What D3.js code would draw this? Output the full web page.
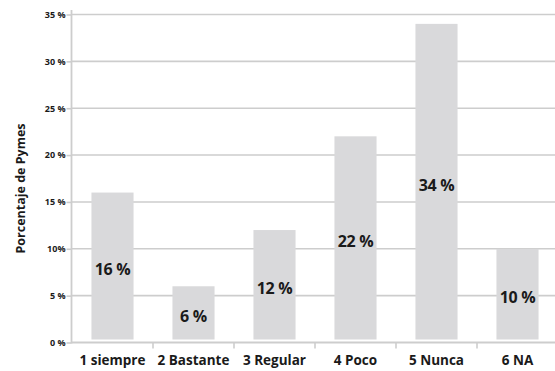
<!DOCTYPE html>
<html>
<head>
<meta charset="utf-8">
<script src="https://cdn.jsdelivr.net/npm/d3@7/dist/d3.min.js"></script>
<style>
  html, body { margin: 0; padding: 0; background: #fff; }
  svg { display: block; font-family: "Open Sans", "Noto Sans", sans-serif; }
</style>
</head>
<body>
<svg id="chart" width="555" height="371"></svg>
<script>
// Survey answers: share of SMEs per response
const categories = ["1 siempre", "2 Bastante", "3 Regular", "4 Poco", "5 Nunca", "6 NA"];
const values = [16, 6, 12, 22, 34, 10];
const valueLabels = ["16 %", "6 %", "12 %", "22 %", "34 %", "10 %"];
const yTicks = [0, 5, 10, 15, 20, 25, 30, 35];
const yTickLabels = ["0 %", "5 %", "10%", "15 %", "20 %", "25 %", "30 %", "35 %"];
const yTitle = "Porcentaje de Pymes";

const svg = d3.select("#chart");
const W = 555;
const plotLeft = 71.5, plotTop = 14.5, plotBottom = 342.5;

const x = d3.scaleBand().domain(categories).range([72, 558]).paddingInner(0.48).paddingOuter(0.24);
const y = d3.scaleLinear().domain([0, 35]).range([plotBottom, plotTop]);

const gridColor = "#cdcdcd";

// horizontal gridlines
svg.append("g").selectAll("line").data(yTicks.filter(d => d > 0)).join("line")
  .attr("x1", plotLeft).attr("x2", W)
  .attr("y1", d => y(d)).attr("y2", d => y(d))
  .attr("stroke", gridColor).attr("stroke-width", 1.6);

// bars
svg.append("g").selectAll("rect").data(values).join("rect")
  .attr("x", (d, i) => x(categories[i]))
  .attr("width", x.bandwidth())
  .attr("y", d => y(d))
  .attr("height", d => y(0) - 3 - y(d))
  .attr("fill", "#d9d9db");

// y axis
const yAxis = d3.axisLeft(y).tickValues(yTicks).tickSize(5).tickPadding(1)
  .tickFormat((d, i) => yTickLabels[i]);
const gy = svg.append("g").attr("transform", `translate(${plotLeft},0)`).call(yAxis);
gy.select(".domain").remove();
gy.selectAll(".tick line").attr("stroke", gridColor).attr("stroke-width", 1.6);
gy.selectAll(".tick text").attr("font-size", 9).attr("font-weight", 700)
  .attr("fill", "#1a1a1a").attr("font-family", "'Open Sans', sans-serif");
svg.append("line").attr("x1", plotLeft).attr("x2", plotLeft).attr("y1", 10).attr("y2", plotBottom + 1)
  .attr("stroke", gridColor).attr("stroke-width", 1.8);

// x axis with ticks at band boundaries
svg.append("line").attr("x1", plotLeft).attr("x2", W).attr("y1", plotBottom).attr("y2", plotBottom)
  .attr("stroke", gridColor).attr("stroke-width", 1.8);
const step = x.step();
svg.append("g").selectAll("line").data(categories.slice(1)).join("line")
  .attr("x1", d => x(d) - (step - x.bandwidth()) / 2)
  .attr("x2", d => x(d) - (step - x.bandwidth()) / 2)
  .attr("y1", plotBottom).attr("y2", plotBottom + 6)
  .attr("stroke", gridColor).attr("stroke-width", 1.6);

svg.append("g").selectAll("text").data(categories).join("text")
  .attr("x", d => x(d) + x.bandwidth() / 2)
  .attr("y", 365)
  .attr("text-anchor", "middle")
  .attr("font-size", 13.5).attr("font-weight", 700).attr("fill", "#1a1a1a")
  .text(d => d);

// value labels centred in each bar
svg.append("g").selectAll("text").data(values).join("text")
  .attr("x", (d, i) => x(categories[i]) + x.bandwidth() / 2)
  .attr("y", d => (y(d) + y(0)) / 2 + 2)
  .attr("dy", "0.35em")
  .attr("text-anchor", "middle")
  .attr("font-size", 16).attr("font-weight", 700).attr("fill", "#1a1a1a")
  .attr("letter-spacing", -0.3)
  .text((d, i) => valueLabels[i]);

// y axis title
svg.append("text")
  .attr("transform", `translate(25,${(plotTop + plotBottom) / 2 + 10}) rotate(-90)`)
  .attr("text-anchor", "middle")
  .attr("font-size", 12.5).attr("font-weight", 700).attr("fill", "#1a1a1a")
  .text(yTitle);
</script>
</body>
</html>
